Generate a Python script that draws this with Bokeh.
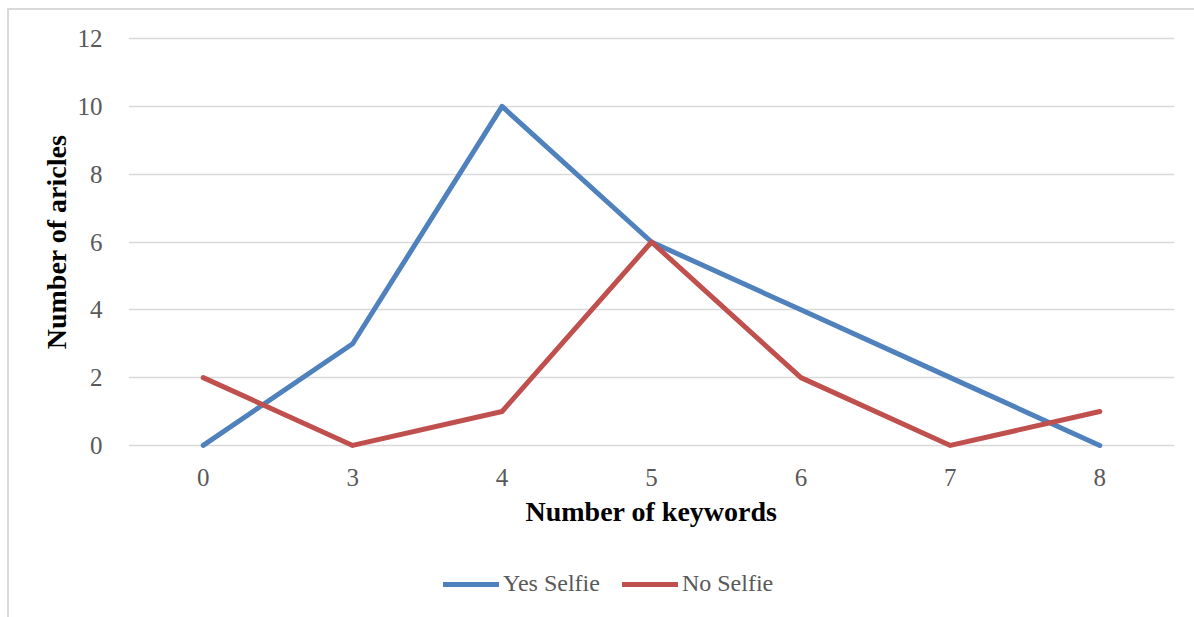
from bokeh.plotting import figure
from bokeh.layouts import column
from bokeh.models import (FactorRange, Range1d, FixedTicker, Legend, LegendItem,
                          ColumnDataSource)
from bokeh.embed import file_html
from bokeh.resources import INLINE

# Data
keywords = ["0", "3", "4", "5", "6", "7", "8"]
yes_selfie = [0, 3, 10, 6, 4, 2, 0]
no_selfie = [2, 0, 1, 6, 2, 0, 1]
y_ticks = [0, 2, 4, 6, 8, 10, 12]
series_names = ["Yes Selfie", "No Selfie"]

BLUE = "#4F81BD"
RED = "#C0504D"
GRID = "#D9D9D9"
TICK_TEXT = "#595959"
SERIF = "Liberation Serif"
W = 1185

src = ColumnDataSource(dict(k=keywords, yes=yes_selfie, no=no_selfie))

# Main line chart
p = figure(width=W, height=545,
           x_range=FactorRange(*keywords, range_padding=0),
           y_range=Range1d(-0.15, 12.15),
           output_backend="svg", toolbar_location=None,
           min_border_left=119, min_border_right=20,
           min_border_top=23, min_border_bottom=105)
p.outline_line_color = None
p.background_fill_color = "white"
p.border_fill_color = "white"

p.line("k", "yes", source=src, line_color=BLUE, line_width=5,
       line_cap="round", line_join="round")
p.line("k", "no", source=src, line_color=RED, line_width=5,
       line_cap="round", line_join="round")

p.yaxis.ticker = FixedTicker(ticks=y_ticks)
for ax in (p.xaxis[0], p.yaxis[0]):
    ax.axis_line_color = None
    ax.major_tick_line_color = None
    ax.minor_tick_line_color = None
    ax.major_label_text_font = SERIF
    ax.major_label_text_font_size = "25px"
    ax.major_label_text_color = TICK_TEXT
    ax.axis_label_text_font = SERIF
    ax.axis_label_text_font_size = "28px"
    ax.axis_label_text_font_style = "bold"
    ax.axis_label_text_color = "black"

p.yaxis.axis_label = "Number of aricles"
p.yaxis.major_label_standoff = 20
p.yaxis.axis_label_standoff = 3
p.xaxis.axis_label = "Number of keywords"
p.xaxis.major_label_standoff = 12
p.xaxis.axis_label_standoff = 7

p.xgrid.grid_line_color = None
p.ygrid.grid_line_color = GRID
p.ygrid.grid_line_width = 1.5

# Legend strip underneath the chart; its lines share the data but sit
# outside the strip's visible y-range, so only the legend keys show
lf = figure(width=W, height=62,
            x_range=FactorRange(*keywords, range_padding=0),
            y_range=Range1d(100, 101),
            output_backend="svg", toolbar_location=None,
            min_border_left=0, min_border_right=0,
            min_border_top=0, min_border_bottom=0)
lf.axis.visible = False
lf.grid.visible = False
lf.outline_line_color = None
lf.border_fill_color = "white"
key_yes = lf.line("k", "yes", source=src, line_color=BLUE, line_width=5, line_cap="round")
key_no = lf.line("k", "no", source=src, line_color=RED, line_width=5, line_cap="round")

legend = Legend(items=[LegendItem(label=series_names[0], renderers=[key_yes]),
                       LegendItem(label=series_names[1], renderers=[key_no])],
                orientation="horizontal", location=(315, 20),
                glyph_width=56, glyph_height=20, label_standoff=4, spacing=22,
                padding=0, margin=0, border_line_color=None,
                background_fill_alpha=0,
                label_text_font=SERIF, label_text_font_size="24px",
                label_text_color=TICK_TEXT)
lf.add_layout(legend, "center")

# Thin grey frame around the whole chart
chart = column(p, lf, spacing=0)
chart.styles = {"margin-left": "7px", "margin-top": "8px",
                "border-left": f"2px solid {GRID}", "border-top": f"2px solid {GRID}"}

open("out.html", "w").write(file_html(chart, INLINE))
